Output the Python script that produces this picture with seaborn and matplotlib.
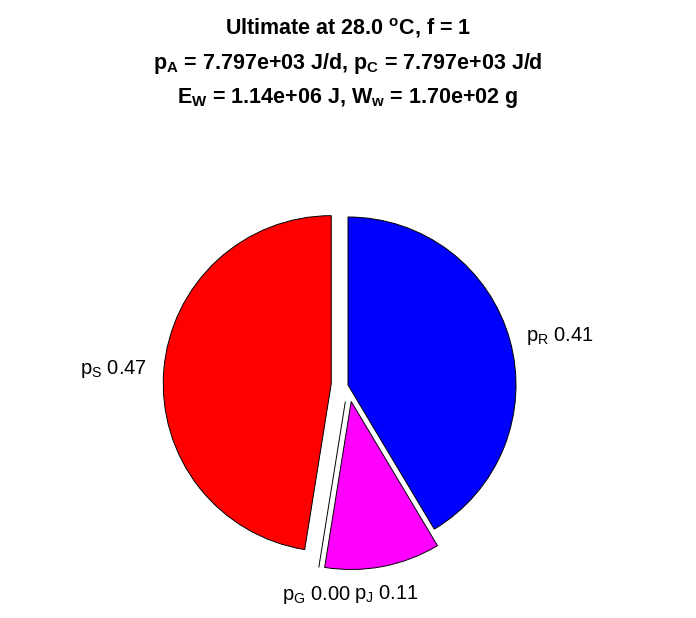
import matplotlib
matplotlib.use("Agg")
import matplotlib.pyplot as plt
import seaborn as sns

# slice data, counter-clockwise from the top
names = ["S", "G", "J", "R"]
shares = [0.47, 0.00, 0.11, 0.41]
colors = ["#ff0000", "#00ff00", "#ff00ff", "#0000ff"]
explode = [0.1, 0.1, 0.1, 0.0]

title_lines = [
    r"Ultimate at 28.0 $\mathregular{^o}$C, f = 1",
    r"$\mathregular{p_A}$ = 7.797e+03 J/d, $\mathregular{p_C}$ = 7.797e+03 J/d",
    r"$\mathregular{E_W}$ = 1.14e+06 J, $\mathregular{W_w}$ = 1.70e+02 g",
]

sns.set_theme(style="white")
plt.rcParams["font.family"] = ["Liberation Sans", "DejaVu Sans"]
plt.rcParams["text.color"] = "black"

fig = plt.figure(figsize=(6.96, 6.18), dpi=100)
ax = fig.add_axes([0, 0, 1, 1])

labels = [r"$\mathregular{p_%s}$ %.2f" % (n, v) for n, v in zip(names, shares)]
wedges, texts = ax.pie(
    shares,
    labels=labels,
    colors=colors,
    explode=explode,
    startangle=90,
    counterclock=True,
    labeldistance=1.1,
    normalize=True,
    wedgeprops=dict(edgecolor="black", linewidth=0.7),
    textprops=dict(fontsize=14.5, color="black"),
)
for t, n in zip(texts, names):
    if n in ("G", "J"):
        t.set_ha("center")
        t.set_va("top")

r_px = 168.0
ax.set_xlim(-348 / r_px, (696 - 348) / r_px)
ax.set_ylim(-(618 - 385) / r_px, 385 / r_px)
ax.set_aspect("auto")
ax.axis("off")

for i, line in enumerate(title_lines):
    fig.text(0.5, 1 - (28 + 35 * i) / 618, line, ha="center", va="center",
             fontsize=15.5, fontweight="bold", color="black")

fig.savefig("out.png", dpi=100, facecolor="white")
plt.close(fig)
